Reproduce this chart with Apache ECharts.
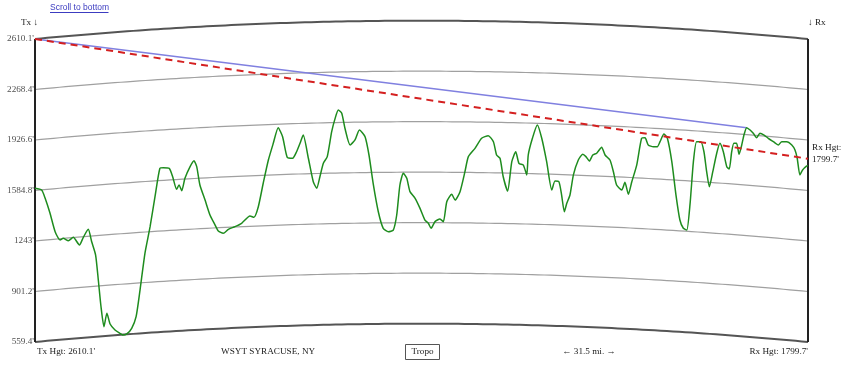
<!DOCTYPE html>
<html>
<head>
<meta charset="utf-8">
<script src="https://cdn.jsdelivr.net/npm/echarts@6/dist/echarts.min.js"></script>
<style>
html,body{margin:0;padding:0;background:#fff;}
#c{width:867px;height:384px;}
</style>
</head>
<body>
<div id="c"></div>
<script>
// ---- data ----
var pathMiles = 31.5;
var txHeight = 2610.1;
var rxHeight = 1799.7;
var tickValues = [2610.1, 2268.4, 1926.6, 1584.8, 1243, 901.2, 559.4];
var tickLabels = ["2610.1'", "2268.4'", "1926.6'", "1584.8'", "1243'", "901.2'", "559.4'"];
// terrain as plotted (height incl. earth bulge), [miles, feet]
var terrainMiles = [0,0.27,0.41,0.61,0.82,1.02,1.15,1.36,1.56,1.81,1.97,2.17,2.31,2.47,2.58,2.69,2.81,2.93,3.06,3.26,3.46,3.57,3.74,3.94,4.12,4.28,4.48,4.69,4.89,5.09,5.23,5.47,5.61,5.77,5.87,5.98,6.11,6.32,6.48,6.59,6.72,6.93,7.13,7.34,7.47,7.67,7.88,8.15,8.42,8.76,8.92,9.10,9.30,9.51,9.71,9.91,10.09,10.28,10.50,10.66,10.80,10.93,11.14,11.34,11.48,11.61,11.75,11.91,12.09,12.23,12.36,12.50,12.63,12.84,13.04,13.22,13.45,13.61,13.79,13.99,14.19,14.40,14.60,14.74,14.87,15.01,15.15,15.28,15.49,15.69,15.89,16.03,16.14,16.30,16.50,16.64,16.78,16.98,17.12,17.32,17.52,17.66,17.93,18.20,18.47,18.68,18.81,18.95,19.08,19.26,19.43,19.59,19.72,19.90,20.04,20.10,20.27,20.47,20.65,20.85,21.06,21.19,21.35,21.46,21.57,21.67,21.80,21.94,22.14,22.32,22.45,22.59,22.73,22.89,23.09,23.23,23.43,23.57,23.70,23.91,24.04,24.18,24.32,24.52,24.72,24.86,24.99,25.20,25.36,25.47,25.63,25.77,25.95,26.12,26.28,26.42,26.56,26.69,26.83,26.96,27.13,27.26,27.37,27.48,27.62,27.78,27.91,28.05,28.19,28.29,28.39,28.48,28.59,28.69,28.80,28.89,29.00,29.14,29.27,29.41,29.54,29.71,29.88,30.09,30.29,30.43,30.63,30.84,30.97,31.06,31.17,31.28,31.45,31.5];
var terrainFeet = [1600,1588,1534,1432,1306,1250,1261,1245,1268,1216,1268,1322,1238,1148,979,798,663,754,681,641,618,607,614,652,731,911,1160,1340,1543,1735,1739,1735,1678,1593,1622,1583,1667,1746,1786,1746,1622,1520,1419,1351,1311,1295,1322,1340,1363,1412,1403,1475,1634,1791,1904,2010,1949,1809,1803,1847,1904,1960,1803,1644,1600,1678,1769,1814,1983,2073,2130,2107,2006,1893,1927,1994,1949,1825,1622,1441,1329,1306,1317,1419,1622,1701,1667,1577,1532,1464,1385,1363,1329,1374,1392,1374,1509,1559,1520,1577,1712,1814,1870,1938,1956,1915,1825,1803,1678,1581,1780,1847,1769,1757,1690,1825,1938,2028,1938,1780,1588,1649,1644,1554,1441,1498,1554,1690,1791,1830,1814,1784,1825,1837,1877,1825,1791,1712,1622,1588,1640,1559,1644,1757,1938,1942,1893,1881,1881,1915,1967,1938,1780,1554,1385,1329,1317,1487,1780,1915,1915,1847,1712,1610,1712,1837,1904,1847,1746,1730,1847,1904,1904,1830,1893,1960,2010,1994,1972,1942,1972,1960,1938,1915,1893,1915,1915,1893,1859,1803,1690,1724,1751,1753];
var losMiles = [0, 29.0];
var losFeet = [2610.1, 2010];
var kFactor = 4 / 3;

// ---- build ----
function bulge(d) { return d * (pathMiles - d) / (1.5 * kFactor); }
var series = [];
tickValues.forEach(function (t, i) {
  var pts = [];
  for (var d = 0; d <= pathMiles + 1e-9; d += 0.25) pts.push([d, t + bulge(d)]);
  var edge = (i === 0 || i === tickValues.length - 1);
  series.push({
    type: 'line', data: pts, symbol: 'none', clip: false, silent: true, z: 1,
    lineStyle: { color: edge ? '#555' : '#a0a0a0', width: edge ? 2 : 1.2 }
  });
});
var bottom = tickValues[tickValues.length - 1];
[0, pathMiles].forEach(function (x) {
  series.push({
    type: 'line', data: [[x, bottom], [x, txHeight]], symbol: 'none', clip: false, silent: true, z: 2,
    lineStyle: { color: '#222', width: 2 }
  });
});
series.push({
  type: 'line', data: terrainMiles.map(function (m, i) { return [m, terrainFeet[i]]; }),
  symbol: 'none', clip: false, smooth: 0.2, z: 4,
  lineStyle: { color: '#1e8c1e', width: 1.5 }
});
series.push({
  type: 'line', data: losMiles.map(function (m, i) { return [m, losFeet[i]]; }),
  symbol: 'none', clip: false, z: 3,
  lineStyle: { color: '#8080e0', width: 1.5 }
});
series.push({
  type: 'line', data: [[0, txHeight], [pathMiles, rxHeight]],
  symbol: 'none', clip: false, z: 5,
  lineStyle: { color: '#d42020', width: 2, type: [7, 5] }
});
series.push({
  type: 'scatter', data: tickValues.map(function (t, i) { return [0, t, tickLabels[i]]; }),
  symbolSize: 0, clip: false, silent: true,
  label: { show: true, position: 'left', distance: 1, formatter: function (p) { return p.data[2]; },
    fontFamily: 'Liberation Serif', fontSize: 9.2, color: '#222' }
});

var serif = 'Liberation Serif';
var f = '9.2px "' + serif + '"';
var chart = echarts.init(document.getElementById('c'), null, { renderer: 'canvas' });
chart.setOption({
  animation: false,
  backgroundColor: '#fff',
  grid: { left: 35, right: 59, top: 39, bottom: 42, containLabel: false },
  xAxis: { type: 'value', min: 0, max: pathMiles, show: false },
  yAxis: { type: 'value', min: bottom, max: txHeight, show: false },
  series: series,
  graphic: [
    { type: 'text', x: 50, y: 7.5, style: { text: 'Scroll to bottom', font: '8.5px "Liberation Sans"', fill: '#3c3cc0', verticalAlign: 'middle' } },
    { type: 'line', shape: { x1: 50, y1: 12.5, x2: 108.5, y2: 12.5 }, style: { stroke: '#3c3cc0', lineWidth: 1 } },
    { type: 'text', x: 38, y: 23, style: { text: 'Tx \u2193', font: f, fill: '#222', align: 'right', verticalAlign: 'middle' } },
    { type: 'text', x: 808, y: 23, style: { text: '\u2193 Rx', font: f, fill: '#222', align: 'left', verticalAlign: 'middle' } },
    { type: 'text', x: 812, y: 148, style: { text: 'Rx Hgt:', font: f, fill: '#222', align: 'left', verticalAlign: 'middle' } },
    { type: 'text', x: 812, y: 160, style: { text: "1799.7'", font: f, fill: '#222', align: 'left', verticalAlign: 'middle' } },
    { type: 'text', x: 37, y: 352, style: { text: "Tx Hgt: 2610.1'", font: f, fill: '#222', align: 'left', verticalAlign: 'middle' } },
    { type: 'text', x: 221, y: 352, style: { text: 'WSYT SYRACUSE, NY', font: f, fill: '#222', align: 'left', verticalAlign: 'middle' } },
    { type: 'rect', shape: { x: 405.5, y: 344.5, width: 34, height: 15 }, style: { fill: '#fff', stroke: '#555', lineWidth: 1 } },
    { type: 'text', x: 422.5, y: 352, style: { text: 'Tropo', font: f, fill: '#222', align: 'center', verticalAlign: 'middle' } },
    { type: 'text', x: 589, y: 352, style: { text: '\u2190 31.5 mi. \u2192', font: f, fill: '#222', align: 'center', verticalAlign: 'middle' } },
    { type: 'text', x: 808, y: 352, style: { text: "Rx Hgt: 1799.7'", font: f, fill: '#222', align: 'right', verticalAlign: 'middle' } }
  ]
});
</script>
</body>
</html>
